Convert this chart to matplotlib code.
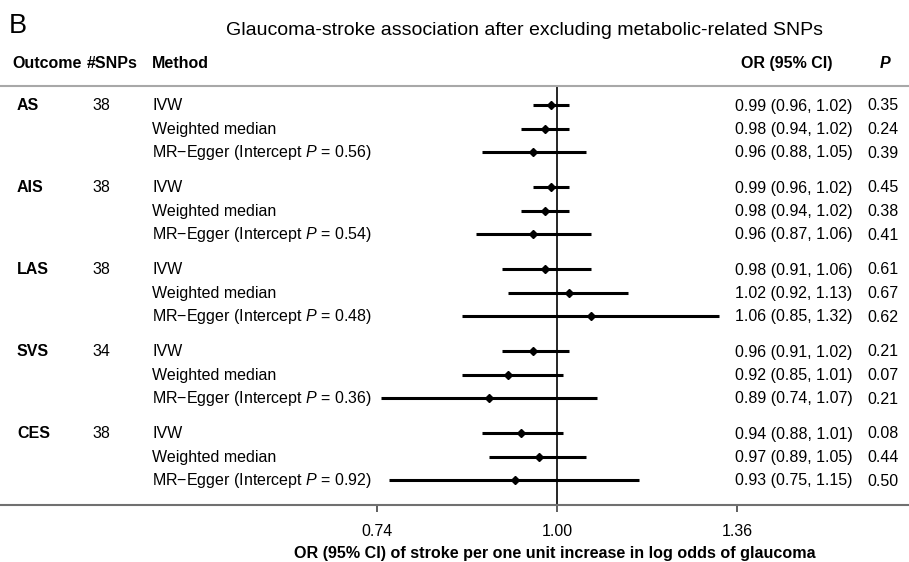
import numpy as np
import matplotlib
matplotlib.use('Agg')
import matplotlib.pyplot as plt
from matplotlib.transforms import blended_transform_factory

plt.rcParams['font.family'] = ['Liberation Sans', 'DejaVu Sans']
plt.rcParams['mathtext.fontset'] = 'custom'
plt.rcParams['mathtext.rm'] = 'Liberation Sans'
plt.rcParams['mathtext.it'] = 'Liberation Sans:italic'
plt.rcParams['mathtext.bf'] = 'Liberation Sans:bold'

# data
outcomes = ['AS', 'AIS', 'LAS', 'SVS', 'CES']
n_snps = [38, 38, 38, 34, 38]
methods = ['IVW', 'Weighted median', 'MR\u2212Egger']
intercept_p = ['0.56', '0.54', '0.48', '0.36', '0.92']
or_est = [[0.99, 0.98, 0.96], [0.99, 0.98, 0.96], [0.98, 1.02, 1.06],
          [0.96, 0.92, 0.89], [0.94, 0.97, 0.93]]
ci_low = [[0.96, 0.94, 0.88], [0.96, 0.94, 0.87], [0.91, 0.92, 0.85],
          [0.91, 0.85, 0.74], [0.88, 0.89, 0.75]]
ci_high = [[1.02, 1.02, 1.05], [1.02, 1.02, 1.06], [1.06, 1.13, 1.32],
           [1.02, 1.01, 1.07], [1.01, 1.05, 1.15]]
p_vals = [['0.35', '0.24', '0.39'], ['0.45', '0.38', '0.41'], ['0.61', '0.67', '0.62'],
          ['0.21', '0.07', '0.21'], ['0.08', '0.44', '0.50']]
tick_vals = [1 / 1.36, 1.0, 1.36]
tick_labels = ['0.74', '1.00', '1.36']

W, H = 909, 562
fig = plt.figure(figsize=(W / 100, H / 100), dpi=100)

def fx(px):
    return px / W

def fy(py):
    return 1 - py / H

# forest axes: spans whole width, from top rule to x axis line
top_px, bot_px = 86, 505
ax = fig.add_axes([0, fy(bot_px), 1, (bot_px - top_px) / H])
ax.set_xscale('log')
ppl = 585.0  # pixels per ln unit
ax.set_xlim(np.exp(-557 / ppl), np.exp((W - 557) / ppl))
ax.set_ylim(bot_px - top_px, 0)

# row positions (pixels below the top rule)
row_step, group_step, first_row = 23.5, 82, 19
fs = 11.5
tr = blended_transform_factory(fig.transFigure, ax.transData)

for g in range(len(outcomes)):
    for i in range(len(methods)):
        y = first_row + g * group_step + i * row_step
        ax.plot([ci_low[g][i], ci_high[g][i]], [y, y], color='black', lw=2.2,
                solid_capstyle='butt', zorder=3)
        ax.plot(or_est[g][i], y, marker='D', color='black', ms=4.5, zorder=4)
        yb = y + 5.5
        if i == 0:
            ax.text(fx(17), yb, outcomes[g], transform=tr, fontsize=fs,
                    fontweight='bold', va='baseline')
            ax.text(fx(92), yb, str(n_snps[g]), transform=tr, fontsize=fs, va='baseline')
        label = methods[i]
        if i == 2:
            label = methods[i] + ' (Intercept $\\mathit{P}$ = ' + intercept_p[g] + ')'
        ax.text(fx(152), yb, label, transform=tr, fontsize=fs, va='baseline')
        ax.text(fx(735), yb, '%.2f (%.2f, %.2f)' % (or_est[g][i], ci_low[g][i], ci_high[g][i]),
                transform=tr, fontsize=fs, va='baseline')
        ax.text(fx(867), yb, p_vals[g][i], transform=tr, fontsize=fs, va='baseline')

ax.axvline(1.0, color='black', lw=1.2, zorder=2)
ax.axhline(0, color='#a8a8a8', lw=1.5, clip_on=False)

for s in ['top', 'right', 'left']:
    ax.spines[s].set_visible(False)
ax.spines['bottom'].set_color('#707070')
ax.spines['bottom'].set_linewidth(1.5)
ax.set_yticks([])
ax.set_xticks(tick_vals)
ax.set_xticks([], minor=True)
ax.set_xticklabels(tick_labels, fontsize=fs)
ax.tick_params(axis='x', direction='out', length=5, width=1.1, color='#333333', pad=9)

# header and titles
fig.text(fx(9), fy(33), 'B', fontsize=19.5, va='baseline')
fig.text(fx(524), fy(35), 'Glaucoma-stroke association after excluding metabolic-related SNPs',
         fontsize=14, ha='center', va='baseline')
fig.text(fx(12), fy(68), 'Outcome', fontsize=fs, fontweight='bold', va='baseline')
fig.text(fx(87), fy(68), '#SNPs', fontsize=fs, fontweight='bold', va='baseline')
fig.text(fx(152), fy(68), 'Method', fontsize=fs, fontweight='bold', va='baseline')
fig.text(fx(787), fy(68), 'OR (95% CI)', fontsize=fs, fontweight='bold', ha='center', va='baseline')
fig.text(fx(880), fy(68), 'P', fontsize=fs, fontweight='bold', fontstyle='italic', va='baseline')
fig.text(fx(555), fy(558), 'OR (95% CI) of stroke per one unit increase in log odds of glaucoma',
         fontsize=11.6, fontweight='bold', ha='center', va='baseline')

fig.savefig('out.png', dpi=100)
